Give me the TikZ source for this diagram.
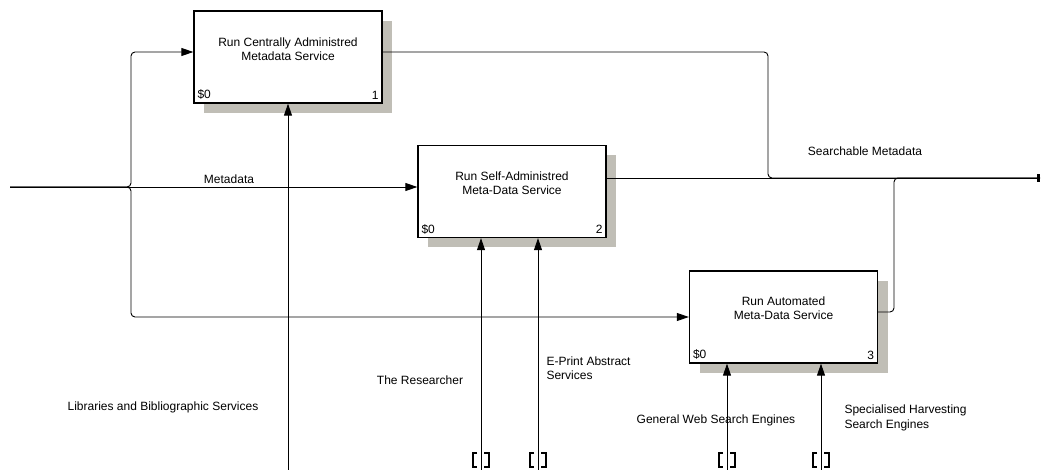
\documentclass[tikz,border=0pt]{standalone}
\usepackage{fontspec}
\setmainfont{Liberation Sans}
\usetikzlibrary{
	shadows,
	calc,
	arrows.meta}
\definecolor{shadowgray}{RGB}{192,190,182}

\begin{document}
\begin{tikzpicture}[x=1pt,y=-1pt,
  every node/.style={font=\fontsize{12}{14.5}\selectfont,align=center},
  activity/.style={draw,line width=1.3pt,fill=white,inner sep=0pt,
    minimum width=188pt,minimum height=92pt,
    drop shadow={fill=shadowgray,opacity=1,shadow xshift=10pt,shadow yshift=-10pt}},
  corner/.style={inner sep=4pt},
  flow/.style={line width=0.9pt,rounded corners=4pt,-{Triangle[length=12pt,width=8pt]}},
  line/.style={line width=0.9pt,rounded corners=4pt},
  tunnel/.style={line width=1.2pt}]

  \useasboundingbox (0,0) rectangle (1041,470);

  % Activities
  \node[activity] (A1) at (288,57) {};
  \node (T1) at ([yshift=8pt]A1.center) {Run Centrally Administred\\Metadata Service};
  \node[corner,anchor=south west] (A1s) at (A1.south west) {\$0};
  \node[corner,anchor=south east] (A1n) at (A1.south east) {1};

  \node[activity] (A2) at (512,191.5) {};
  \node (T2) at ([yshift=8.5pt]A2.center) {Run Self-Administred\\Meta-Data Service};
  \node[corner,anchor=south west] (A2s) at (A2.south west) {\$0};
  \node[corner,anchor=south east] (A2n) at (A2.south east) {2};

  \node[activity] (A3) at (783.5,317) {};
  \node (T3) at ([yshift=9pt]A3.center) {Run Automated\\Meta-Data Service};
  \node[corner,anchor=south west] (A3s) at (A3.south west) {\$0};
  \node[corner,anchor=south east] (A3n) at (A3.south east) {3};

  % Boundary points
  \coordinate (I) at (10,187);
  \coordinate (B) at (131,187);
  \coordinate (O) at (1040,178);
  \coordinate (J1) at (768,178);
  \coordinate (J3) at (894,178);
  \coordinate (M1) at (288,470);
  \coordinate (M2) at (481,470);
  \coordinate (M3) at (538,470);
  \coordinate (M4) at (727,470);
  \coordinate (M5) at (821,470);

  % Input
  \draw[flow] (I) -- (I -| A2.west);
  \draw[flow] (I) -- (B) |- ([yshift=5pt]A1.west);
  \draw[flow] (I) -- (B) |- (A3.west);

  % Output
  \draw[line] ([yshift=5pt]A1.east) -| (J1) -- (O);
  \draw[line] ([yshift=5pt]A3.east) -| (J3) -- (O);
  \draw[line,-{Rectangle[length=3pt,width=8pt]}] (A2.east |- O) -- (O);

  % Mechanisms
  \draw[flow] (M1) -- (M1 |- A1.south);
  \draw[flow] (M2) -- (M2 |- A2.south);
  \draw[flow] (M3) -- (M3 |- A2.south);
  \draw[flow] (M4) -- (M4 |- A3.south);
  \draw[flow] (M5) -- (M5 |- A3.south);
  \foreach \m in {M2,M3,M4,M5} {
    \draw[tunnel] ($(\m)+(-4,-17)$) -- ++(-4,0) -- ++(0,14) -- ++(4,0);
    \draw[tunnel] ($(\m)+(3,-17)$) -- ++(5,0) -- ++(0,14) -- ++(-5,0);
  }

  % Labels
  \node (L0) at (229,179) {Metadata};
  \node (L1) at (865,151) {Searchable Metadata};
  \node (L2) at (163,407) {Libraries and Bibliographic Services};
  \node (L3) at (420,380) {The Researcher};
  \node[anchor=west,align=left] (L4) at (543,368) {E-Print Abstract\\Services};
  \node (L5) at (716,420) {General Web Search Engines};
  \node[anchor=west,align=left] (L6) at (841,418) {Specialised Harvesting\\Search Engines};

\end{tikzpicture}
\end{document}
